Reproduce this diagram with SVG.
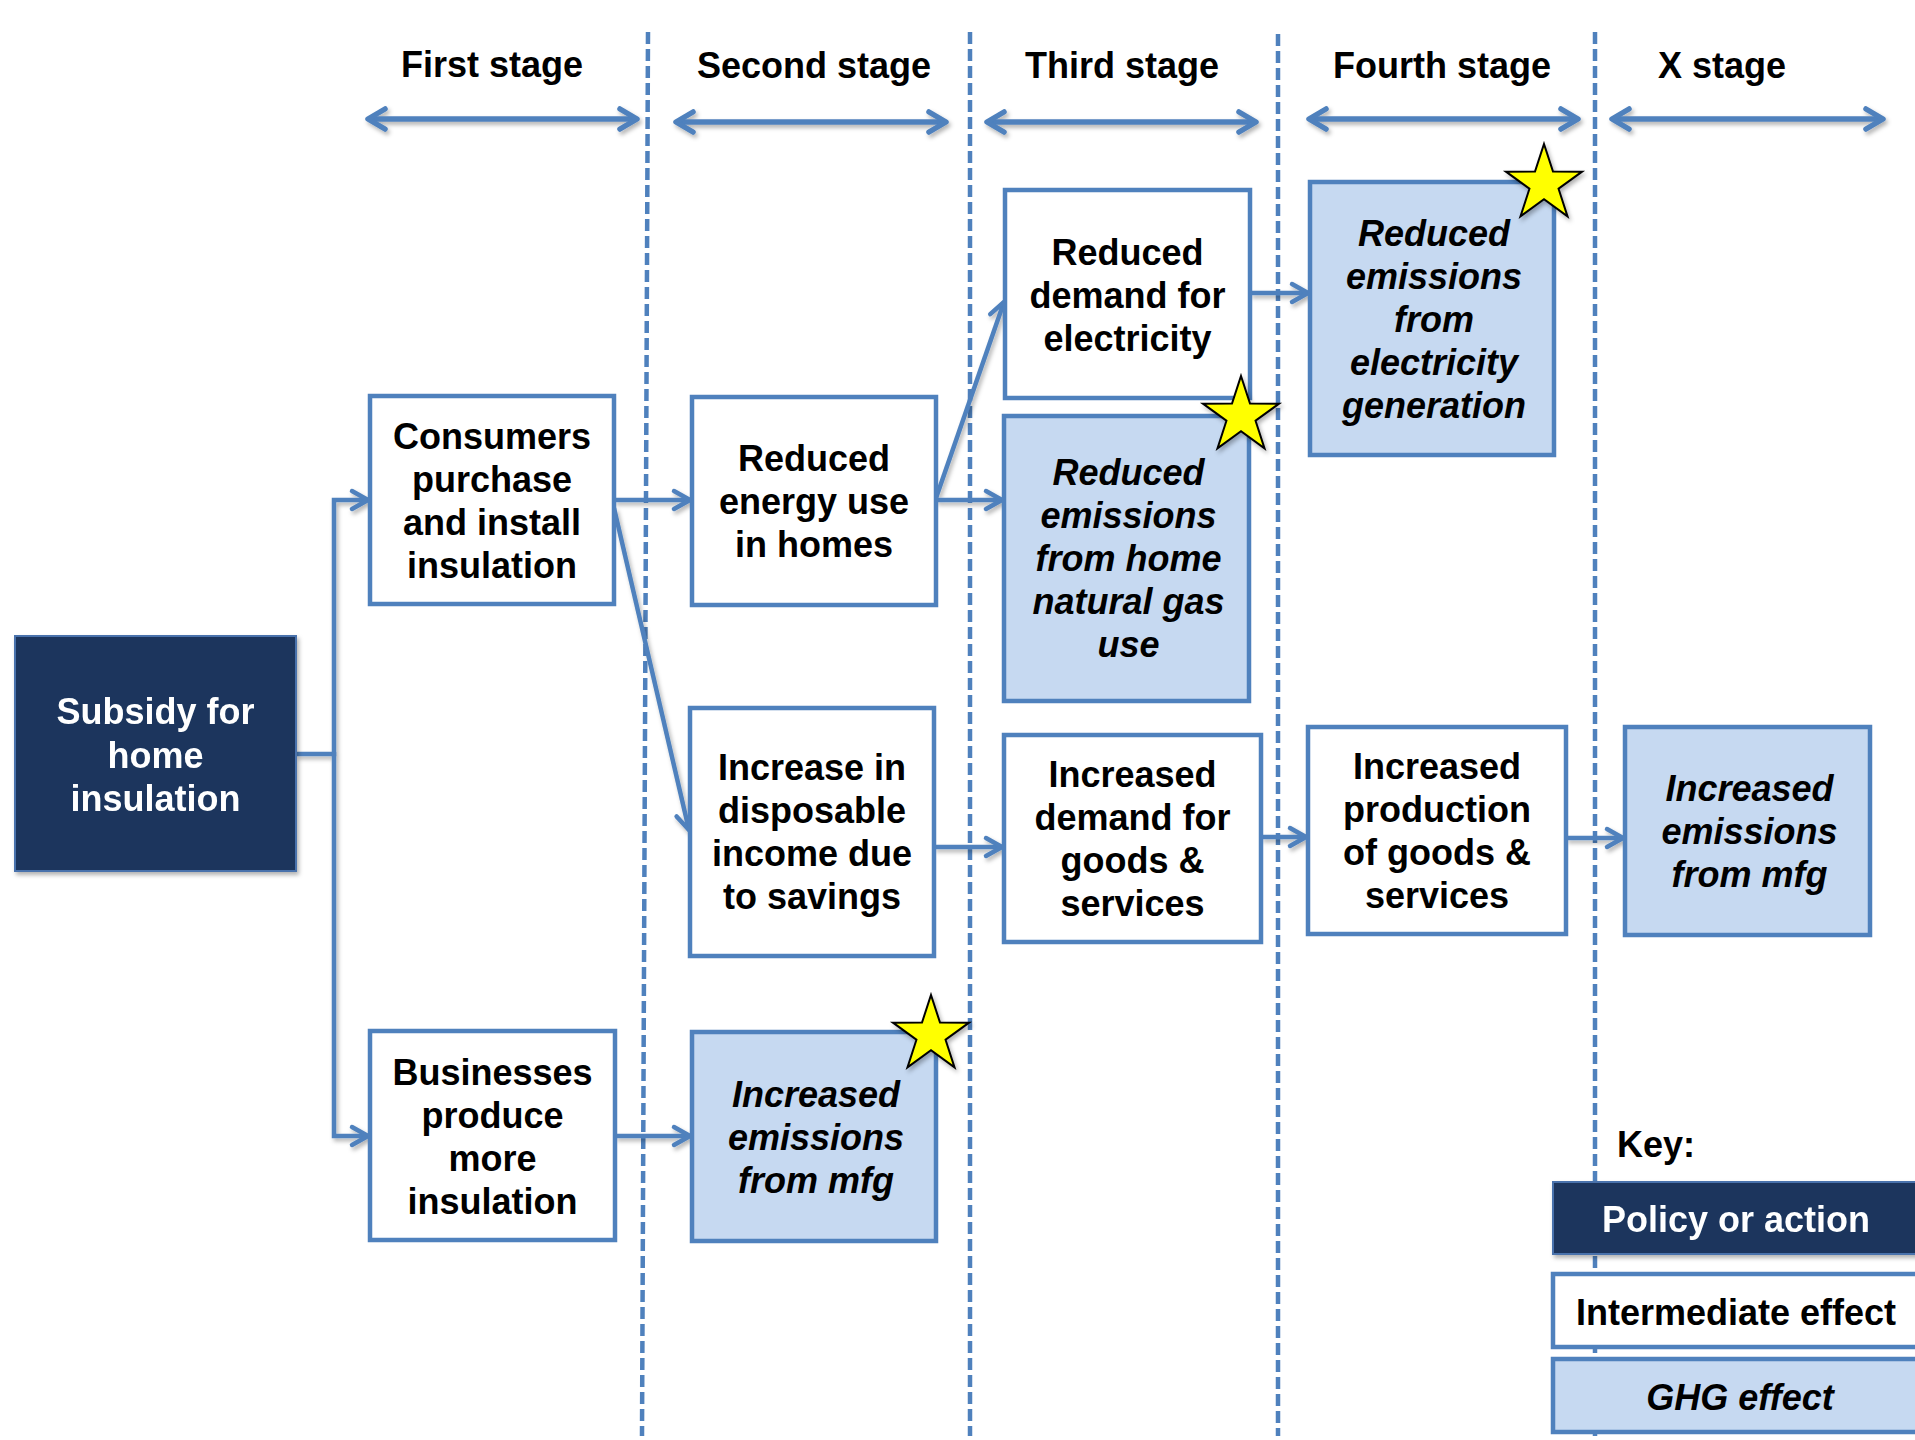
<svg xmlns="http://www.w3.org/2000/svg" xmlns:xlink="http://www.w3.org/1999/xlink" width="1915" height="1440" viewBox="0 0 1915 1440">
<style>
.t{font-family:"Liberation Sans",Arial,sans-serif;font-weight:bold;font-size:36px;fill:#000;text-anchor:middle}
.w{fill:#fff}
.i{font-style:italic}
.box{fill:#fff;stroke:#4F81BD;stroke-width:4.5}
.ghg{fill:#C6D9F1;stroke:#4F81BD;stroke-width:4.5}
.pol{fill:#1A365D;stroke:#4A72AC;stroke-width:2}
.con{fill:none;stroke:#4F81BD;stroke-width:4.5;stroke-linejoin:miter}
.dash{fill:none;stroke:#4F81BD;stroke-width:4.5;stroke-dasharray:12 5}
.sa{fill:none;stroke:#4F81BD;stroke-width:5.5}
.star{fill:#FFFF00;stroke:#000;stroke-width:2;stroke-linejoin:miter}
</style>
<defs>
<filter id="sh" filterUnits="userSpaceOnUse" x="0" y="0" width="1915" height="1440">
<feDropShadow dx="2" dy="3" stdDeviation="2" flood-color="#000" flood-opacity="0.3"/>
</filter>
<marker id="ah" markerUnits="userSpaceOnUse" viewBox="-22 -14 26 28" refX="0" refY="0" markerWidth="26" markerHeight="28" orient="auto-start-reverse">
<path d="M -16 -9 L 0 0 L -16 9" fill="none" stroke="#4F81BD" stroke-width="4.5" stroke-linecap="round" stroke-linejoin="round"/>
</marker>
<marker id="ah2" markerUnits="userSpaceOnUse" viewBox="-22 -14 26 28" refX="0" refY="0" markerWidth="26" markerHeight="28" orient="auto-start-reverse">
<path d="M -17 -10 L 0 0 L -17 10" fill="none" stroke="#4F81BD" stroke-width="5.5" stroke-linecap="round" stroke-linejoin="round"/>
</marker>
<polygon id="star" points="0,-40 8.99,-12.38 38.04,-12.36 14.55,4.73 23.51,32.36 0,15.3 -23.51,32.36 -14.55,4.73 -38.04,-12.36 -8.99,-12.38"/>
</defs>
<rect width="1915" height="1440" fill="#fff"/>

<g id="stage-dividers">
<line class="dash" x1="648" y1="32" x2="642" y2="1436"/>
<line class="dash" x1="970" y1="32" x2="970" y2="1436"/>
<line class="dash" x1="1278" y1="34" x2="1278" y2="1436"/>
<line class="dash" x1="1595" y1="32" x2="1595" y2="1436"/>
</g>

<g id="stage-headers">
<text class="t" x="492" y="77">First stage</text>
<text class="t" x="814" y="78">Second stage</text>
<text class="t" x="1122" y="78">Third stage</text>
<text class="t" x="1442" y="78">Fourth stage</text>
<text class="t" x="1722" y="78">X stage</text>
</g>

<g id="stage-arrows" filter="url(#sh)">
<line class="sa" x1="368" y1="119" x2="637" y2="119" marker-start="url(#ah2)" marker-end="url(#ah2)"/>
<line class="sa" x1="676" y1="122" x2="946" y2="122" marker-start="url(#ah2)" marker-end="url(#ah2)"/>
<line class="sa" x1="987" y1="122" x2="1256" y2="122" marker-start="url(#ah2)" marker-end="url(#ah2)"/>
<line class="sa" x1="1309" y1="119" x2="1578" y2="119" marker-start="url(#ah2)" marker-end="url(#ah2)"/>
<line class="sa" x1="1612" y1="119" x2="1883" y2="119" marker-start="url(#ah2)" marker-end="url(#ah2)"/>
</g>

<g id="connectors" filter="url(#sh)">
<path class="con" d="M 296 754 H 334 V 500 H 368" marker-end="url(#ah)"/>
<path class="con" d="M 334 752 V 1136 H 368" marker-end="url(#ah)"/>
<path class="con" d="M 614 500 H 690" marker-end="url(#ah)"/>
<path class="con" d="M 614 508 L 689 830" marker-end="url(#ah)"/>
<path class="con" d="M 615 1136 H 690" marker-end="url(#ah)"/>
<path class="con" d="M 936 500 H 1002" marker-end="url(#ah)"/>
<path class="con" d="M 936 498 L 1004 302" marker-end="url(#ah)"/>
<path class="con" d="M 934 847 H 1002" marker-end="url(#ah)"/>
<path class="con" d="M 1250 293 H 1308" marker-end="url(#ah)"/>
<path class="con" d="M 1261 837 H 1306" marker-end="url(#ah)"/>
<path class="con" d="M 1566 838 H 1623" marker-end="url(#ah)"/>
</g>

<g id="subsidy" filter="url(#sh)">
<rect class="pol" x="15" y="636" width="281" height="235"/>
<text class="t w" x="155.5" y="724">Subsidy for</text>
<text class="t w" x="155.5" y="768">home</text>
<text class="t w" x="155.5" y="811">insulation</text>
</g>

<g id="consumers">
<rect class="box" x="370" y="396" width="244" height="208"/>
<text class="t" x="492" y="449">Consumers</text>
<text class="t" x="492" y="492">purchase</text>
<text class="t" x="492" y="535">and install</text>
<text class="t" x="492" y="578">insulation</text>
</g>

<g id="businesses">
<rect class="box" x="370" y="1031" width="245" height="209"/>
<text class="t" x="492.5" y="1085">Businesses</text>
<text class="t" x="492.5" y="1128">produce</text>
<text class="t" x="492.5" y="1171">more</text>
<text class="t" x="492.5" y="1214">insulation</text>
</g>

<g id="energy-use">
<rect class="box" x="692" y="397" width="244" height="208"/>
<text class="t" x="814" y="471">Reduced</text>
<text class="t" x="814" y="514">energy use</text>
<text class="t" x="814" y="557">in homes</text>
</g>

<g id="disposable-income">
<rect class="box" x="690" y="708" width="244" height="248"/>
<text class="t" x="812" y="780">Increase in</text>
<text class="t" x="812" y="823">disposable</text>
<text class="t" x="812" y="866">income due</text>
<text class="t" x="812" y="909">to savings</text>
</g>

<g id="mfg-emissions-2">
<rect class="ghg" x="692" y="1032" width="244" height="209"/>
<text class="t i" x="816" y="1107">Increased</text>
<text class="t i" x="816" y="1150">emissions</text>
<text class="t i" x="816" y="1193">from mfg</text>
</g>

<g id="electricity-demand">
<rect class="box" x="1005" y="190" width="245" height="208"/>
<text class="t" x="1127.5" y="265">Reduced</text>
<text class="t" x="1127.5" y="308">demand for</text>
<text class="t" x="1127.5" y="351">electricity</text>
</g>

<g id="home-gas-emissions">
<rect class="ghg" x="1004" y="416" width="245" height="285"/>
<text class="t i" x="1128.5" y="485">Reduced</text>
<text class="t i" x="1128.5" y="528">emissions</text>
<text class="t i" x="1128.5" y="571">from home</text>
<text class="t i" x="1128.5" y="614">natural gas</text>
<text class="t i" x="1128.5" y="657">use</text>
</g>

<g id="goods-demand">
<rect class="box" x="1004" y="735" width="257" height="207"/>
<text class="t" x="1132.5" y="787">Increased</text>
<text class="t" x="1132.5" y="830">demand for</text>
<text class="t" x="1132.5" y="873">goods &amp;</text>
<text class="t" x="1132.5" y="916">services</text>
</g>

<g id="electricity-emissions">
<rect class="ghg" x="1310" y="182" width="244" height="273"/>
<text class="t i" x="1434" y="246">Reduced</text>
<text class="t i" x="1434" y="289">emissions</text>
<text class="t i" x="1434" y="332">from</text>
<text class="t i" x="1434" y="375">electricity</text>
<text class="t i" x="1434" y="418">generation</text>
</g>

<g id="goods-production">
<rect class="box" x="1308" y="727" width="258" height="207"/>
<text class="t" x="1437" y="779">Increased</text>
<text class="t" x="1437" y="822">production</text>
<text class="t" x="1437" y="865">of goods &amp;</text>
<text class="t" x="1437" y="908">services</text>
</g>

<g id="mfg-emissions-x">
<rect class="ghg" x="1625" y="727" width="245" height="208"/>
<text class="t i" x="1749.5" y="801">Increased</text>
<text class="t i" x="1749.5" y="844">emissions</text>
<text class="t i" x="1749.5" y="887">from mfg</text>
</g>

<g id="stars" filter="url(#sh)">
<use xlink:href="#star" href="#star" class="star" x="1544" y="184"/>
<use xlink:href="#star" href="#star" class="star" x="1241" y="416"/>
<use xlink:href="#star" href="#star" class="star" x="931" y="1035"/>
</g>

<g id="key">
<text class="t" style="text-anchor:start" x="1617" y="1157">Key:</text>
<g id="key-policy" filter="url(#sh)">
<rect class="pol" x="1553" y="1182" width="370" height="72"/>
<text class="t w" x="1736" y="1232">Policy or action</text>
</g>
<g id="key-intermediate">
<rect class="box" x="1553" y="1274" width="370" height="73"/>
<text class="t" x="1736" y="1325">Intermediate effect</text>
</g>
<g id="key-ghg">
<rect class="ghg" x="1553" y="1359" width="370" height="73"/>
<text class="t i" x="1740" y="1410">GHG effect</text>
</g>
</g>
</svg>
